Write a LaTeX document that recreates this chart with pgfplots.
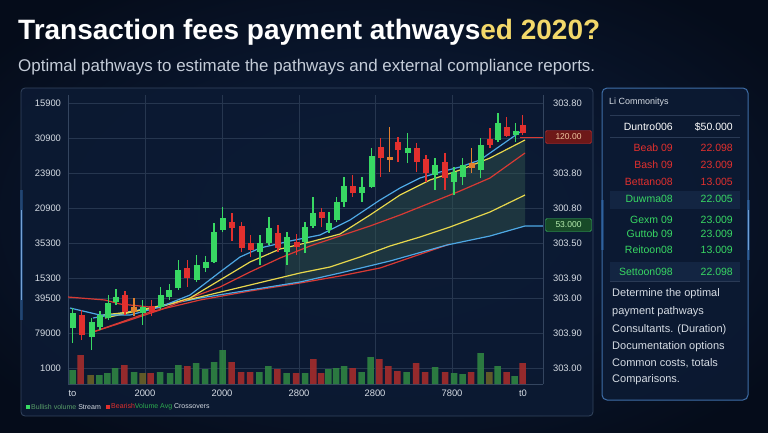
\documentclass[border=0pt]{standalone}
\usepackage{fontspec}
\setmainfont{Liberation Sans}
\usepackage{graphicx}
\usepackage{pgfplots}
\pgfplotsset{compat=1.18}
\definecolor{bgc}{HTML}{0E2244}
\definecolor{bgo}{HTML}{050C1A}
\definecolor{panel}{HTML}{0C1A33}
\definecolor{panelb}{HTML}{34455F}
\definecolor{gridc}{HTML}{26364F}
\definecolor{cgreen}{HTML}{38D863}
\definecolor{cred}{HTML}{E2302E}
\definecolor{corange}{HTML}{E0802E}
\definecolor{lblue}{HTML}{4EA8E4}
\definecolor{lyellow}{HTML}{E8D84C}
\definecolor{lred}{HTML}{D83A34}
\definecolor{vgreen}{HTML}{2F8442}
\definecolor{vred}{HTML}{A42C2C}
\definecolor{volive}{HTML}{6A6128}
\definecolor{txt}{HTML}{D6DCE4}
\definecolor{subc}{HTML}{C4CCD8}
\definecolor{titley}{HTML}{F2D86A}
\definecolor{glow}{HTML}{3C8CE6}
\definecolor{rpb}{HTML}{3F6EA8}
\definecolor{sepc}{HTML}{2A3A55}
\definecolor{band}{HTML}{132542}
\definecolor{tagr}{HTML}{6E1818}
\definecolor{tagrb}{HTML}{D03030}
\definecolor{tagrt}{HTML}{F0C8A0}
\definecolor{tagg}{HTML}{184A28}
\definecolor{taggb}{HTML}{3CC060}
\definecolor{taggt}{HTML}{B8F0B0}
\definecolor{fillc}{HTML}{33584E}
\newcommand{\fs}[1]{\fontsize{#1}{#1}\selectfont}
\begin{document}
\begin{tikzpicture}
\useasboundingbox (0,0) rectangle (768pt,-432pt);
\fill[bgo] (0,0) rectangle (768pt,-432pt);
\shade[inner color=bgc, outer color=bgo] (-100pt,60pt) rectangle (868pt,-492pt);
% title
\node[anchor=west, inner sep=0pt, text=white] at (18pt,-32pt)
  {\resizebox{582pt}{!}{\fs{25}\bfseries Transaction fees payment athways\textcolor{titley}{ed 2020?}}};
\node[anchor=west, inner sep=0pt, text=subc] at (18pt,-67pt)
  {\resizebox{577pt}{!}{\fs{16}Optimal pathways to estimate the pathways and external compliance reports.}};
% panels
\draw[panelb, line width=0.8pt, fill=panel, fill opacity=0.9, rounded corners=4pt] (21pt,-88pt) rectangle (593pt,-416pt);
\draw[rpb, line width=1pt, fill=panel, fill opacity=0.9, rounded corners=5pt] (602pt,-88pt) rectangle (748pt,-400pt);
\draw[glow, line width=3pt, opacity=0.3] (21pt,-190pt) -- (21pt,-320pt);
\draw[glow!60!white, line width=0.9pt, opacity=0.8] (21pt,-210pt) -- (21pt,-300pt);
\draw[glow, line width=3pt, opacity=0.3] (602pt,-200pt) -- (602pt,-250pt);
\draw[glow, line width=3pt, opacity=0.3] (748pt,-200pt) -- (748pt,-260pt);
\draw[glow!60!white, line width=0.9pt, opacity=0.7] (748pt,-210pt) -- (748pt,-250pt);

\begin{axis}[
  at={(68pt,-384pt)}, anchor=south west, scale only axis,
  width=475pt, height=289pt,
  xmin=68, xmax=543, ymin=0, ymax=289,
  axis x line*=bottom, axis y line*=left,
  axis line style={draw=panelb, line width=0.8pt},
  xtick={145,222,299,375,452}, xticklabels={2000,2000,2800,2800,7800},
  extra x ticks={72.5,523}, extra x tick labels={to,t0},
  extra x tick style={grid=none},
  ytick={16,51,86,106,141,176,211,246,281},
  yticklabels={1000,79000,39500,15300,35300,20900,23900,30900,15900},
  grid=major, grid style={draw=gridc, line width=0.6pt},
  major tick length=0pt,
  tick label style={font=\fs{9.4}, text=txt},
  yticklabel style={xshift=-3.5pt},
  xticklabel style={yshift=-2.5pt},
  unbounded coords=jump,
  /pgf/number format/assume math mode=true,
]
% volume
\addplot[ybar, bar width=6.5, bar shift=0pt, draw=none, fill=vgreen, fill opacity=0.9] coordinates {
(72.7,14)(99.3,9)(107.3,11)(115,16)(134,12)(160,12)(170,11)(178.3,19)(196,21)(205,15)(214,22)(222.7,34)(259.3,12)(268.3,18)(286.7,11)(305,11)(328.3,15)(336,16)(344,18)(361.7,12)(370.7,27)(406.7,12)(435,17)(454,11)(462.7,10)(480.7,31)(497.7,18)(514.5,8)};
\addplot[ybar, bar width=6.5, bar shift=0pt, draw=none, fill=vred, fill opacity=0.9] coordinates {
(80.7,29)(124.3,19)(150.7,11)(187.3,18)(231.7,22)(241,12)(250,12)(277.3,15)(296,11)(313.3,25)(321,11)(352.7,16)(379.3,25)(388.3,18)(397.3,13)(416,21)(425,12)(445,12)(471,12)(506.7,12)(522.7,21)};
\addplot[ybar, bar width=6.5, bar shift=0pt, draw=none, fill=volive, fill opacity=0.9] coordinates {
(90.7,9)(142.7,11)(489.3,12)};
% shaded band between the fast yellow line and the slow blue line
\addplot[fill=fillc, fill opacity=0.45, draw=none] coordinates {(285,136)(310,142)(340,150)(370,169)(400,189)(430,204)(460,214)(490,226)(525,244)(525,158)(490,148)(447,139)(390,123)(340,111)(300,102)(285,100)};
% moving averages
\addplot[lred, line width=1.2pt] coordinates {(93,52)(150,72)(200,84)(250,93)(300,101)(340,108)(380,116)(450,140)};
\addplot[lblue, line width=1.2pt] coordinates {(93,66)(150,76)(200,86)(250,94)(300,102)(340,111)(390,123)(447,139)(490,148)(525,158)(543,158)};
\addplot[lyellow, line width=1.2pt] coordinates {(105,66)(150,76)(200,87)(250,99)(300,111)(330,117)(360,127)(390,138)(420,147)(450,157)(490,172)(525,189)};
\addplot[lred, line width=1.2pt] coordinates {(68,87)(105,84)(120,80)(140,78)(160,76)};
\addplot[lred, line width=1.2pt] coordinates {(93,52)(130,64)(160,74)(190,86)(220,97)(250,112)(280,126)(310,138)(340,148)(370,158)(400,169)(430,181)(460,193)(490,206)(525,231)};
\addplot[lyellow, line width=1.2pt] coordinates {(103,69)(130,72)(160,77)(190,86)(220,104)(250,122)(280,135)(310,142)(340,150)(370,169)(400,189)(430,204)(460,214)(490,226)(525,244)};
\addplot[lblue, line width=1.2pt] coordinates {(70,76)(100,69)(130,69)(160,77)(190,89)(220,112)(240,127)(260,136)(290,143)(320,149)(350,164)(380,184)(400,196)(420,206)(440,212)(460,217)(480,224)(500,238)(520,252)};
\addplot[lred, line width=1pt] coordinates {(520,247)(543,247)};
% candles: green
\addplot[cgreen, line width=1.1pt] coordinates {
(72.7,41)(72.7,76)(72.7,nan)(91.7,34)(91.7,66)(91.7,nan)(100,54)(100,73)(100,nan)(108.3,64)(108.3,89)(108.3,nan)(116,79)(116,95)(116,nan)(142.7,59)(142.7,84)(142.7,nan)(160.7,75)(160.7,97)(160.7,nan)(169.3,84)(169.3,100)(169.3,nan)(178.3,94)(178.3,124)(178.3,nan)(196.7,102)(196.7,129)(196.7,nan)(205.7,112)(205.7,128)(205.7,nan)(214,121)(214,161)(214,nan)(222.7,152)(222.7,177)(222.7,nan)(260,119)(260,149)(260,nan)(269,139)(269,167)(269,nan)(287,119)(287,152)(287,nan)(305,131)(305,162)(305,nan)(313,156)(313,187)(313,nan)(329,151)(329,172)(329,nan)(336.7,162)(336.7,187)(336.7,nan)(344,177)(344,207)(344,nan)(362,182)(362,207)(362,nan)(371.7,196)(371.7,236)(371.7,nan)(407.7,221)(407.7,251)(407.7,nan)(435,194)(435,226)(435,nan)(454,189)(454,217)(454,nan)(462.7,199)(462.7,226)(462.7,nan)(480.7,206)(480.7,246)(480.7,nan)(498,242)(498,271)(498,nan)(515.7,242)(515.7,261)};
\addplot[cgreen, line width=6pt, line cap=butt] coordinates {
(72.7,56)(72.7,71)(72.7,nan)(91.7,47)(91.7,62)(91.7,nan)(100,57)(100,69)(100,nan)(108.3,66)(108.3,81)(108.3,nan)(116,82)(116,87)(116,nan)(142.7,71)(142.7,77)(142.7,nan)(160.7,77)(160.7,89)(160.7,nan)(169.3,87)(169.3,94)(169.3,nan)(178.3,96)(178.3,114)(178.3,nan)(196.7,104)(196.7,119)(196.7,nan)(205.7,116)(205.7,122)(205.7,nan)(214,122)(214,152)(214,nan)(222.7,154)(222.7,166)(222.7,nan)(260,132)(260,141)(260,nan)(269,141)(269,156)(269,nan)(287,132)(287,147)(287,nan)(305,142)(305,157)(305,nan)(313,158)(313,171)(313,nan)(329,154)(329,161)(329,nan)(336.7,164)(336.7,182)(336.7,nan)(344,182)(344,198)(344,nan)(362,191)(362,197)(362,nan)(371.7,197)(371.7,228)(371.7,nan)(407.7,231)(407.7,236)(407.7,nan)(435,209)(435,219)(435,nan)(454,202)(454,212)(454,nan)(462.7,207)(462.7,219)(462.7,nan)(480.7,214)(480.7,239)(480.7,nan)(498,244)(498,261)(498,nan)(515.7,249)(515.7,253)};
% candles: red
\addplot[cred, line width=1.1pt] coordinates {
(81.7,44)(81.7,74)(81.7,nan)(125,69)(125,93)(125,nan)(151.7,68)(151.7,84)(151.7,nan)(187.3,97)(187.3,124)(187.3,nan)(232,143)(232,171)(232,nan)(241.7,132)(241.7,162)(241.7,nan)(250.7,127)(250.7,149)(250.7,nan)(278,132)(278,159)(278,nan)(296.7,129)(296.7,150)(296.7,nan)(321.7,157)(321.7,176)(321.7,nan)(352.7,187)(352.7,209)(352.7,nan)(380.5,207)(380.5,246)(380.5,nan)(398,222)(398,247)(398,nan)(416.7,212)(416.7,241)(416.7,nan)(426,202)(426,229)(426,nan)(445,194)(445,231)(445,nan)(490,236)(490,256)(490,nan)(506.7,247)(506.7,267)(506.7,nan)(522.7,249)(522.7,269)};
\addplot[cred, line width=6pt, line cap=butt] coordinates {
(81.7,49)(81.7,69)(81.7,nan)(125,72)(125,89)(125,nan)(151.7,72)(151.7,78)(151.7,nan)(187.3,106)(187.3,116)(187.3,nan)(232,156)(232,162)(232,nan)(241.7,136)(241.7,158)(241.7,nan)(250.7,134)(250.7,141)(250.7,nan)(278,136)(278,151)(278,nan)(296.7,137)(296.7,142)(296.7,nan)(321.7,166)(321.7,172)(321.7,nan)(352.7,191)(352.7,198)(352.7,nan)(380.5,226)(380.5,237)(380.5,nan)(398,234)(398,242)(398,nan)(416.7,222)(416.7,236)(416.7,nan)(426,211)(426,225)(426,nan)(445,206)(445,222)(445,nan)(490,239)(490,245)(490,nan)(506.7,248)(506.7,257)(506.7,nan)(522.7,251)(522.7,259)};
% candles: orange
\addplot[corange, line width=1.1pt] coordinates {(134,68)(134,86)(134,nan)(389.5,212)(389.5,257)(389.5,nan)(471.7,211)(471.7,236)};
\addplot[corange, line width=6pt, line cap=butt] coordinates {(134,72)(134,77)(134,nan)(389.5,224)(389.5,227)(389.5,nan)(471.7,216)(471.7,221)};
\end{axis}
% right-hand value axis
\begin{axis}[
  at={(68pt,-384pt)}, anchor=south west, scale only axis,
  width=475pt, height=289pt,
  xmin=68, xmax=543, ymin=0, ymax=289,
  axis x line=none, axis y line*=right,
  axis line style={draw=panelb, line width=0.8pt},
  ytick={16,51,86,106,141,176,211,281},
  yticklabels={303.00,303.90,303.00,303.90,303.50,300.80,303.80,303.80},
  major tick length=0pt,
  tick label style={font=\fs{9.4}, text=txt},
  yticklabel style={xshift=6.5pt},
  /pgf/number format/assume math mode=true,
]
\addplot[draw=none] coordinates {(68,0)};
\end{axis}
% price tags
\node[draw=tagrb, fill=tagr, rounded corners=1.5pt, minimum width=46pt, minimum height=13pt, inner sep=0pt, text=tagrt, font=\fs{8.5}] at (568.5pt,-137pt) {120.00};
\node[draw=taggb, fill=tagg, rounded corners=1.5pt, minimum width=46pt, minimum height=13pt, inner sep=0pt, text=taggt, font=\fs{8.5}] at (568.5pt,-225pt) {53.000};
% legend
\fill[cgreen] (26pt,-405pt) rectangle (30pt,-409pt);
\node[anchor=west, inner sep=0pt, font=\fs{7}] at (31pt,-407pt) {\textcolor{vgreen!80!white}{Bullish volume} \textcolor{txt}{Stream}};
\fill[cred] (106pt,-405pt) rectangle (110pt,-409pt);
\node[anchor=west, inner sep=0pt, font=\fs{7}] at (111pt,-407pt) {\textcolor{cred}{Bearish}\textcolor{cgreen!80!black}{ Volume Avg} \textcolor{txt}{Crossovers}};
% right panel table
\node[anchor=west, inner sep=0pt, text=txt, font=\fs{9}] at (609pt,-102pt) {Li Commonitys};
\draw[sepc, line width=0.6pt] (610pt,-115pt) -- (740pt,-115pt);
\node[anchor=east, inner sep=0pt, text=white, font=\fs{10.5}] at (673pt,-127pt) {Duntro006};
\node[anchor=east, inner sep=0pt, text=white, font=\fs{10.5}] at (733pt,-127pt) {\$50.000};
\draw[sepc, line width=0.6pt] (610pt,-137pt) -- (740pt,-137pt);
\node[anchor=east, inner sep=0pt, text=cred, font=\fs{10.5}] at (673pt,-148pt) {Beab 09};
\node[anchor=east, inner sep=0pt, text=cred, font=\fs{10.5}] at (733pt,-148pt) {22.098};
\node[anchor=east, inner sep=0pt, text=cred, font=\fs{10.5}] at (673pt,-165pt) {Bash 09};
\node[anchor=east, inner sep=0pt, text=cred, font=\fs{10.5}] at (733pt,-165pt) {23.009};
\node[anchor=east, inner sep=0pt, text=cred, font=\fs{10.5}] at (673pt,-182pt) {Bettano08};
\node[anchor=east, inner sep=0pt, text=cred, font=\fs{10.5}] at (733pt,-182pt) {13.005};
\fill[band] (610pt,-191pt) rectangle (740pt,-209pt);
\fill[band] (610pt,-262pt) rectangle (740pt,-281pt);
\node[anchor=east, inner sep=0pt, text=cgreen, font=\fs{10.5}] at (673pt,-199pt) {Duwma08};
\node[anchor=east, inner sep=0pt, text=cgreen, font=\fs{10.5}] at (733pt,-199pt) {22.005};
\node[anchor=east, inner sep=0pt, text=cgreen, font=\fs{10.5}] at (673pt,-220pt) {Gexm 09};
\node[anchor=east, inner sep=0pt, text=cgreen, font=\fs{10.5}] at (733pt,-220pt) {23.009};
\node[anchor=east, inner sep=0pt, text=cgreen, font=\fs{10.5}] at (673pt,-234pt) {Guttob 09};
\node[anchor=east, inner sep=0pt, text=cgreen, font=\fs{10.5}] at (733pt,-234pt) {23.009};
\node[anchor=east, inner sep=0pt, text=cgreen, font=\fs{10.5}] at (673pt,-250pt) {Reitoon08};
\node[anchor=east, inner sep=0pt, text=cgreen, font=\fs{10.5}] at (733pt,-250pt) {13.009};
\node[anchor=east, inner sep=0pt, text=cgreen, font=\fs{10.5}] at (673pt,-272pt) {Settoon098};
\node[anchor=east, inner sep=0pt, text=cgreen, font=\fs{10.5}] at (733pt,-272pt) {22.098};
\draw[sepc, line width=0.6pt] (610pt,-281pt) -- (740pt,-281pt);
% paragraph
\node[anchor=west, inner sep=0pt, text=txt, font=\fs{11}] at (612pt,-294pt) {Determine the optimal};
\node[anchor=west, inner sep=0pt, text=txt, font=\fs{11}] at (612pt,-312pt) {payment pathways};
\node[anchor=west, inner sep=0pt, text=txt, font=\fs{11}] at (612pt,-330pt) {Consultants. (Duration)};
\node[anchor=west, inner sep=0pt, text=txt, font=\fs{11}] at (612pt,-347pt) {Documentation options};
\node[anchor=west, inner sep=0pt, text=txt, font=\fs{11}] at (612pt,-363pt) {Common costs, totals};
\node[anchor=west, inner sep=0pt, text=txt, font=\fs{11}] at (612pt,-380pt) {Comparisons.};
\end{tikzpicture}
\end{document}
